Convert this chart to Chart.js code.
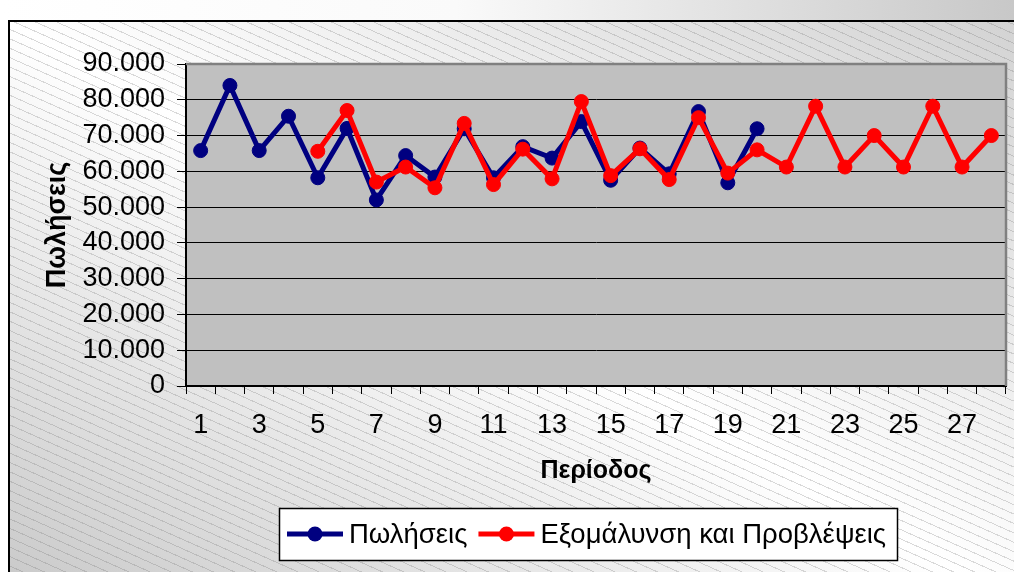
<!DOCTYPE html>
<html lang="el">
<head>
<meta charset="utf-8">
<title>Πωλήσεις – Εξομάλυνση και Προβλέψεις</title>
<script src="https://cdn.jsdelivr.net/npm/chart.js@4.4.1/dist/chart.umd.min.js"></script>
<style>
  html, body { margin: 0; padding: 0; }
  body {
    width: 1014px; height: 572px; overflow: hidden; position: relative;
    background: linear-gradient(to right, #ffffff 0%, #fafafa 45%, #c8c8c8 100%);
  }
  #frame {
    position: absolute; left: 8px; top: 20px; width: 1030px; height: 600px;
    border-left: 2px solid #000; border-top: 2px solid #000;
    background:
      repeating-linear-gradient(24deg, rgba(0,0,0,0) 0px, rgba(0,0,0,0) 7.6px, rgba(110,110,110,0.26) 7.6px, rgba(110,110,110,0.26) 8.6px),
      linear-gradient(to top right, #c6c6c6 0%, #ffffff 50%, #d2d2d2 100%);
  }
  #chart { position: absolute; left: 0; top: 0; }
</style>
</head>
<body>
<div id="frame"></div>
<canvas id="chart" width="1014" height="572"></canvas>
<script>
// Periods 1..28
const periods = [1,2,3,4,5,6,7,8,9,10,11,12,13,14,15,16,17,18,19,20,21,22,23,24,25,26,27,28];

// Actual sales (periods 1..20)
const sales = [65800, 84000, 65800, 75400, 58200, 72000, 52000, 64400, 58400, 71900,
               58200, 66900, 63700, 73900, 57500, 66500, 59300, 76700, 56800, 71900];

// Smoothed values and forecasts (from period 5 onwards)
const smoothed = [null, null, null, null,
                  65600, 77000, 57000, 61200, 55400, 73400, 56300, 66200, 57900, 79500,
                  58800, 66300, 57700, 75000, 59500, 66000, 61200, 78200, 61200, 70000,
                  61200, 78200, 61200, 70000];

// Value axis ticks
const yTicks = [0, 10000, 20000, 30000, 40000, 50000, 60000, 70000, 80000, 90000];

const seriesNames = ['Πωλήσεις', 'Εξομάλυνση και Προβλέψεις'];
const seriesColors = ['#000080', '#ff0000'];

const FONT = "'Liberation Sans', Arial, sans-serif";

function fmtThousands(v) {
  const s = Math.round(v).toString();
  return s.replace(/\B(?=(\d{3})+(?!\d))/g, '.');
}

// Plot area: grey fill with a grey frame on top and right
const plotArea = {
  id: 'plotArea',
  beforeDraw(chart) {
    const { ctx, chartArea: a } = chart;
    ctx.save();
    ctx.fillStyle = '#c0c0c0';
    ctx.fillRect(a.left, a.top, a.right - a.left, a.bottom - a.top);
    ctx.restore();
  },
  beforeDatasetsDraw(chart) {
    const { ctx, chartArea: a } = chart;
    ctx.save();
    ctx.strokeStyle = '#808080';
    ctx.lineWidth = 2.5;
    ctx.beginPath();
    ctx.moveTo(a.left, a.top);
    ctx.lineTo(a.right, a.top);
    ctx.lineTo(a.right, a.bottom);
    ctx.stroke();
    ctx.restore();
  }
};

// Boxed legend with line-and-marker samples
const boxLegend = {
  id: 'boxLegend',
  afterDraw(chart) {
    const ctx = chart.ctx;
    const box = { x: 279, y: 508, w: 618, h: 52 };
    const cy = box.y + box.h / 2;
    ctx.save();
    ctx.fillStyle = '#ffffff';
    ctx.fillRect(box.x, box.y, box.w, box.h);
    ctx.strokeStyle = '#000';
    ctx.lineWidth = 1.5;
    ctx.strokeRect(box.x + 0.5, box.y + 0.5, box.w, box.h);
    ctx.font = '27.5px ' + FONT;
    ctx.textBaseline = 'middle';
    ctx.textAlign = 'left';
    let x = box.x + 8;
    seriesNames.forEach((name, i) => {
      ctx.strokeStyle = seriesColors[i];
      ctx.lineWidth = 5;
      ctx.beginPath();
      ctx.moveTo(x, cy);
      ctx.lineTo(x + 56, cy);
      ctx.stroke();
      ctx.fillStyle = seriesColors[i];
      ctx.beginPath();
      ctx.arc(x + 28, cy, 7.5, 0, Math.PI * 2);
      ctx.fill();
      ctx.fillStyle = '#000';
      ctx.fillText(name, x + 62, cy + 1);
      x += 62 + ctx.measureText(name).width + 11;
    });
    ctx.restore();
  }
};

new Chart(document.getElementById('chart'), {
  type: 'line',
  data: {
    labels: periods,
    datasets: [
      {
        label: seriesNames[0],
        data: sales,
        borderColor: seriesColors[0],
        backgroundColor: seriesColors[0],
        borderWidth: 5,
        pointRadius: 7,
        pointBorderWidth: 1,
        pointHoverRadius: 7,
        tension: 0,
        order: 1
      },
      {
        label: seriesNames[1],
        data: smoothed,
        borderColor: seriesColors[1],
        backgroundColor: seriesColors[1],
        borderWidth: 5,
        pointRadius: 7,
        pointBorderWidth: 1,
        pointHoverRadius: 7,
        tension: 0,
        spanGaps: false,
        order: 0
      }
    ]
  },
  options: {
    responsive: false,
    animation: false,
    devicePixelRatio: 1,
    layout: { padding: { left: 0, right: 6, top: 64, bottom: 0 } },
    plugins: {
      legend: { display: false },
      tooltip: { enabled: false }
    },
    scales: {
      x: {
        type: 'category',
        offset: true,
        grid: {
          offset: true,
          drawOnChartArea: false,
          drawTicks: true,
          tickLength: 8,
          tickColor: '#000',
          lineWidth: 1
        },
        border: { color: '#000', width: 2 },
        ticks: {
          autoSkip: false,
          maxRotation: 0,
          padding: 15,
          color: '#000',
          font: { family: FONT, size: 27 },
          callback: function (value, index) {
            return index % 2 === 0 ? String(periods[index]) : '';
          }
        },
        title: {
          display: true,
          text: 'Περίοδος',
          color: '#000',
          font: { family: FONT, size: 25, weight: 'bold' },
          padding: { top: 0, bottom: 86 }
        },
        afterFit: (scale) => { scale.height = 186; }
      },
      y: {
        min: 0,
        max: 90000,
        afterBuildTicks: (scale) => { scale.ticks = yTicks.map(v => ({ value: v })); },
        grid: {
          color: '#000',
          lineWidth: 1,
          tickLength: 9,
          tickColor: '#000'
        },
        border: { color: '#000', width: 2 },
        ticks: {
          padding: 12,
          color: '#000',
          font: { family: FONT, size: 27 },
          callback: (v) => v === 0 ? '0' : fmtThousands(v)
        },
        title: {
          display: true,
          text: 'Πωλήσεις',
          color: '#000',
          font: { family: FONT, size: 27, weight: 'bold' },
          padding: { top: 41, bottom: 0 }
        },
        afterFit: (scale) => { scale.width = 186; }
      }
    }
  },
  plugins: [plotArea, boxLegend]
});
</script>
</body>
</html>
